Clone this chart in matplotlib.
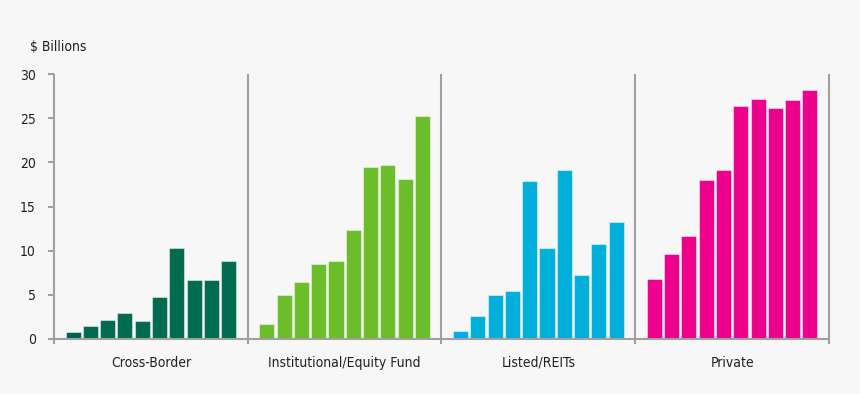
import matplotlib
matplotlib.use("Agg")
import matplotlib.pyplot as plt

categories = ["Cross-Border", "Institutional/Equity Fund", "Listed/REITs", "Private"]
cross_border = [0.8, 1.5, 2.1, 3.0, 2.0, 4.7, 10.3, 6.7, 6.7, 8.8]
institutional = [1.7, 5.0, 6.4, 8.5, 8.8, 12.3, 19.5, 19.7, 18.1, 25.2]
listed = [0.9, 2.6, 5.0, 5.45, 17.9, 10.3, 19.1, 7.3, 10.75, 13.3]
private = [6.8, 9.6, 11.7, 18.05, 19.1, 26.4, 27.2, 26.1, 27.1, 28.2]
series = [cross_border, institutional, listed, private]
colors = ["#006B4E", "#6BBE2A", "#00B0DA", "#EC008C"]
first_colors = ["#005F58", "#6BBE2A", "#00AEEF", "#EC008C"]
yticks = [0, 5, 10, 15, 20, 25, 30]

plt.rcParams['font.family'] = ["DejaVu Sans"]
plt.rcParams['font.stretch'] = "condensed"

bg = "#F7F7F7"
gray = "#A0A0A0"
txt = "#222222"

fig = plt.figure(figsize=(8.6, 3.94), dpi=100, facecolor=bg)
ax = fig.add_axes([54/860, 1-339/394, (829-54)/860, (339-74)/394])
ax.set_facecolor(bg)

G = 11.2
for g, vals in enumerate(series):
    xs = [g*G + 1.1 + i for i in range(len(vals))]
    cols = [first_colors[g]] + [colors[g]] * (len(vals) - 1)
    ax.bar(xs, vals, width=0.87, color=cols, edgecolor=(1, 1, 1, 0.45), linewidth=0.8, zorder=2)

ax.set_xlim(0, 4*G)
ax.set_ylim(0, 30)
for s in ["top", "right", "left"]:
    ax.spines[s].set_visible(False)
ax.spines["bottom"].set_color(gray)
ax.spines["bottom"].set_linewidth(1.5)
ax.spines["bottom"].set_zorder(3)

ax.vlines([0, G, 2*G, 3*G, 4*G], -0.55, 30, colors=gray, linewidth=1.5, clip_on=False, zorder=3)

ax.set_yticks(yticks)
ax.set_yticklabels([str(v) for v in yticks], fontsize=10, color=txt)
ax.tick_params(axis="y", length=4, width=1.5, color=gray, pad=9)
ax.set_xticks([g*G + G/2 for g in range(4)])
ax.set_xticklabels(categories, fontsize=10, color=txt)
ax.tick_params(axis="x", length=0, pad=12)

fig.text(30/860, 1-47/394, "$ Billions", fontsize=10, color=txt, va="center", ha="left")

fig.savefig("out.png", dpi=100, facecolor=bg)
